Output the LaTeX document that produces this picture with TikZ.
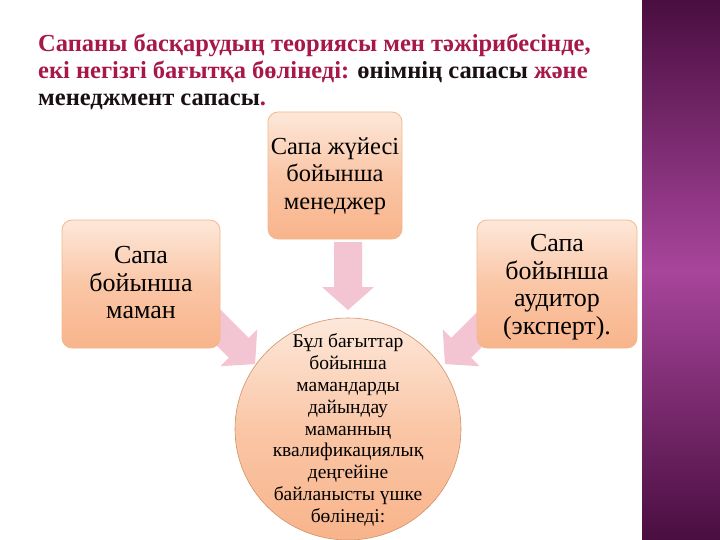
\documentclass[tikz,border=0pt]{standalone}
\usepackage{fontspec}
\setmainfont{Liberation Serif}
\usetikzlibrary{calc}
\definecolor{crim}{HTML}{A8174A}
\definecolor{titleblk}{HTML}{1A1014}
\definecolor{purpdark}{HTML}{4A0E40}
\definecolor{purpmid}{HTML}{A8459C}
\definecolor{boxtop}{HTML}{FDE8DA}
\definecolor{boxmid}{HTML}{FAC6A6}
\definecolor{boxbot}{HTML}{F8B48B}
\definecolor{boxline}{HTML}{F2B990}
\definecolor{arrowpink}{HTML}{F3C5D2}
\definecolor{circline}{HTML}{D0926A}
\tikzset{
  pbox/.style={rounded corners=10pt, draw=boxline, line width=0.8pt,
    top color=boxtop, bottom color=boxbot, middle color=boxmid},
  boxtext/.style={font=\rmfamily\fontsize{26}{27.5}\selectfont, align=center, text=black, inner sep=0pt},
  circtext/.style={font=\rmfamily\fontsize{19.5}{21.8}\selectfont, align=center, text=black, inner sep=0pt},
  titleline/.style={font=\rmfamily\fontsize{24.5}{24.5}\selectfont\bfseries, anchor=base west, inner sep=0pt},
  blockarrow/.style={fill=arrowpink, draw=none}
}
\newcommand{\bigarrow}{(0,-14) -- (45,-14) -- (45,-26) -- (68,0) -- (45,26) -- (45,14) -- (0,14) -- cycle}
\begin{document}
\begin{tikzpicture}[x=1pt,y=-1pt]
\useasboundingbox (0,0) rectangle (720,540);
\fill[white] (0,0) rectangle (720,540);
% purple side bar
\shade[top color=purpdark, bottom color=purpmid] (642,0) rectangle (720,270.5);
\shade[top color=purpmid, bottom color=purpdark] (642,270) rectangle (720,540);
% title
\node[titleline, text=crim] (t1) at (38,52) {Сапаны басқарудың теориясы мен тәжірибесінде,};
\node[titleline] (t2) at (38,79) {\textcolor{crim}{екі негізгі бағытқа бөлінеді:} \textcolor{titleblk}{өнімнің сапасы} \textcolor{crim}{және}};
\node[titleline, text=titleblk] (t3) at (38,106) {менеджмент сапасы\textcolor{crim}{.}};
% arrows (drawn below boxes)
\begin{scope}[shift={(348,242)}, rotate=-90]
  \fill[blockarrow] \bigarrow;
\end{scope}
\begin{scope}[shift={(207,316)}, rotate=-45]
  \fill[blockarrow] \bigarrow;
\end{scope}
\begin{scope}[shift={(493,316)}, rotate=-135]
  \fill[blockarrow] \bigarrow;
\end{scope}
% boxes
\path[pbox] (268,112) rectangle (402,239);
\path[pbox] (62,220) rectangle (220,348);
\path[pbox] (477,220) rectangle (637,348);
\path[draw=circline, line width=0.6pt, top color=boxtop, bottom color=boxbot, middle color=boxmid] (348,429) ellipse [x radius=113, y radius=111];
% texts
\node[boxtext, font=\rmfamily\fontsize{24.5}{27.5}\selectfont] (top) at (335,176) {Сапа жүйесі\\бойынша\\менеджер};
\node[boxtext] (left) at (141,283) {Сапа\\бойынша\\маман};
\node[boxtext] (right) at (557,287) {Сапа\\бойынша\\аудитор\\(эксперт).};
\node[circtext] (circ) at (348,430) {Бұл бағыттар\\бойынша\\мамандарды\\дайындау\\маманның\\квалификациялық\\деңгейіне\\байланысты үшке\\бөлінеді:};
\end{tikzpicture}
\end{document}
